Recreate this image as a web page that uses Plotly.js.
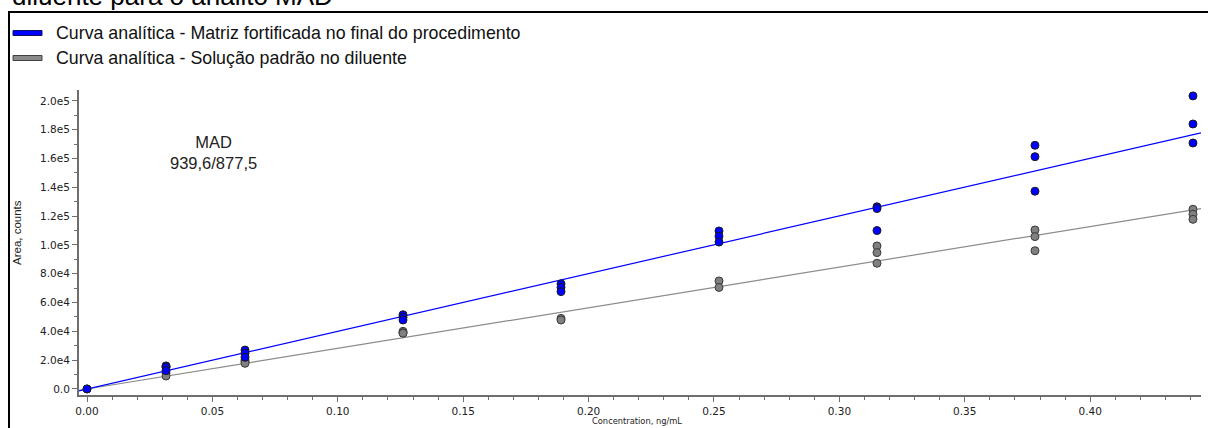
<!DOCTYPE html>
<html>
<head>
<meta charset="utf-8">
<script src="https://cdn.plot.ly/plotly-3.0.1.min.js"></script>
<style>
  html, body { margin: 0; padding: 0; background: #ffffff; overflow: hidden; }
  #chart { width: 1208px; height: 428px; }
</style>
</head>
<body>
<div id="chart"></div>
<script>
// Calibration levels (ng/mL)
const concLevels = [0, 0.0315, 0.063, 0.126, 0.189, 0.252, 0.315, 0.378, 0.441];

// Peak areas (counts) for each level: fortified matrix, spiked at the end of the procedure
const areaMatrix = [
  [0],
  [16000, 15000, 12700],
  [27000, 24800, 22000],
  [51500, 49800, 47900],
  [73000, 70600, 67600],
  [109700, 106000, 102000],
  [126500, 125300, 110000],
  [169200, 161300, 137300],
  [203500, 184000, 170800]
];

// Peak areas (counts) for each level: standard solution in diluent
const areaSolvent = [
  [0],
  [15500, 11000, 9000],
  [20000, 19000, 17800],
  [40000, 39000, 38700],
  [49000, 47900],
  [75000, 70500],
  [99300, 94700, 87300],
  [110400, 105800, 96000],
  [124800, 121300, 117800]
];

// Calibration lines: area = slope * conc + intercept
const fitSlope = [400500, 282000];
const fitIntercept = [0, 0];

const seriesNames = [
  "Curva analítica - Matriz fortificada no final do procedimento",
  "Curva analítica - Solução padrão no diluente"
];
const analyteLabel = ["MAD", "939,6/877,5"];
const chartTitle = "diluente para o analito MAD";
const xTitle = "Concentration, ng/mL";
const yTitle = "Area, counts";

const xTickVals = [0, 0.05, 0.10, 0.15, 0.20, 0.25, 0.30, 0.35, 0.40];
const xTickText = ["0.00", "0.05", "0.10", "0.15", "0.20", "0.25", "0.30", "0.35", "0.40"];
const yTickVals = [0, 20000, 40000, 60000, 80000, 100000, 120000, 140000, 160000, 180000, 200000];
const yTickText = ["0.0", "2.0e4", "4.0e4", "6.0e4", "8.0e4", "1.0e5", "1.2e5", "1.4e5", "1.6e5", "1.8e5", "2.0e5"];

// ---- page geometry ----
const W = 1208, H = 428;
const M = { l: 79, r: 7, t: 90, b: 33 };
const PW = W - M.l - M.r, PH = H - M.t - M.b;
const px = v => (v - M.l) / PW;       // page pixel -> paper x
const py = v => (H - M.b - v) / PH;   // page pixel -> paper y

const xRange = [-0.0032, 0.4442];
const yRange = [-4200, 207600];

const colors = { blue: "#0000ff", gray: "#808080" };

function flatten(levels, areas) {
  const xs = [], ys = [];
  areas.forEach((reps, i) => reps.forEach(a => { xs.push(levels[i]); ys.push(a); }));
  return { xs, ys };
}

const ptsM = flatten(concLevels, areaMatrix);
const ptsS = flatten(concLevels, areaSolvent);

function fitLine(k) {
  return { x: xRange.slice(), y: xRange.map(c => fitSlope[k] * c + fitIntercept[k]) };
}
const lineM = fitLine(0), lineS = fitLine(1);

const traces = [
  { x: lineS.x, y: lineS.y, mode: "lines", type: "scatter", name: seriesNames[1],
    line: { color: "#8c8c8c", width: 1.2 }, hoverinfo: "skip", showlegend: false, cliponaxis: true },
  { x: lineM.x, y: lineM.y, mode: "lines", type: "scatter", name: seriesNames[0],
    line: { color: colors.blue, width: 1.2 }, hoverinfo: "skip", showlegend: false, cliponaxis: true },
  { x: ptsS.xs, y: ptsS.ys, mode: "markers", type: "scatter", name: seriesNames[1],
    marker: { color: colors.gray, size: 8, line: { color: "#3a3a3a", width: 1 } }, showlegend: false, cliponaxis: false },
  { x: ptsM.xs, y: ptsM.ys, mode: "markers", type: "scatter", name: seriesNames[0],
    marker: { color: colors.blue, size: 8, line: { color: "#1a1a1a", width: 1 } }, showlegend: false, cliponaxis: false }
];

const axisFont = { family: "DejaVu Sans, sans-serif", size: 10.5, color: "#222222" };
const axisColor = "#6e6e6e";

// legend rows drawn as swatch + label
const legendRows = [
  { y: 33, fill: colors.blue, edge: "#101060", name: seriesNames[0] },
  { y: 58, fill: "#8a8a8a", edge: "#404040", name: seriesNames[1] }
];

const shapes = [
  // outer frame
  { type: "rect", xref: "paper", yref: "paper",
    x0: px(9), x1: px(W + 10), y0: py(H + 10), y1: py(12),
    line: { color: "#000000", width: 2 }, fillcolor: "rgba(0,0,0,0)", layer: "above" }
];
const annotations = [
  { text: chartTitle, xref: "paper", yref: "paper", x: px(10), y: py(-4),
    xanchor: "left", yanchor: "middle", showarrow: false,
    font: { family: "Liberation Sans, Arial, sans-serif", size: 26, color: "#000000" } },
  { text: analyteLabel.join("<br>"), xref: "paper", yref: "paper", x: px(213), y: py(152),
    xanchor: "center", yanchor: "middle", showarrow: false, align: "center",
    font: { family: "Liberation Sans, Arial, sans-serif", size: 16.5, color: "#222222" } },
  { text: xTitle, xref: "paper", yref: "paper", x: px(637), y: py(421),
    xanchor: "center", yanchor: "middle", showarrow: false,
    font: { family: "DejaVu Sans, sans-serif", size: 8.3, color: "#222222" } },
  { text: yTitle, xref: "paper", yref: "paper", x: px(17), y: py(233), textangle: -90,
    xanchor: "center", yanchor: "middle", showarrow: false,
    font: { family: "Liberation Sans, Arial, sans-serif", size: 11.5, color: "#222222" } }
];
legendRows.forEach(r => {
  shapes.push({ type: "rect", xref: "paper", yref: "paper",
    x0: px(13), x1: px(42), y0: py(r.y + 2.5), y1: py(r.y - 2.5),
    fillcolor: r.fill, line: { color: r.edge, width: 1 }, layer: "above" });
  annotations.push({ text: r.name, xref: "paper", yref: "paper", x: px(54), y: py(r.y),
    xanchor: "left", yanchor: "middle", showarrow: false,
    font: { family: "Liberation Sans, Arial, sans-serif", size: 17.8, color: "#111111" } });
});

const layout = {
  width: W, height: H,
  margin: M,
  paper_bgcolor: "#ffffff", plot_bgcolor: "#ffffff",
  showlegend: false,
  xaxis: {
    range: xRange, tickmode: "array", tickvals: xTickVals, ticktext: xTickText,
    showgrid: false, zeroline: false, showline: true, linecolor: axisColor, linewidth: 2,
    ticks: "outside", ticklen: 5, tickwidth: 1, tickcolor: axisColor, tickfont: axisFont,
    minor: { dtick: 0.01, tick0: 0, ticks: "outside", ticklen: 3, tickcolor: axisColor, showgrid: false },
    fixedrange: true
  },
  yaxis: {
    range: yRange, tickmode: "array", tickvals: yTickVals, ticktext: yTickText,
    showgrid: false, zeroline: false, showline: true, linecolor: axisColor, linewidth: 2,
    ticks: "outside", ticklen: 5, tickwidth: 1, tickcolor: axisColor, tickfont: axisFont,
    minor: { dtick: 10000, tick0: 0, ticks: "outside", ticklen: 3, tickcolor: axisColor, showgrid: false },
    fixedrange: true
  },
  shapes: shapes,
  annotations: annotations
};

Plotly.newPlot("chart", traces, layout, { staticPlot: true, displayModeBar: false });
</script>
</body>
</html>
